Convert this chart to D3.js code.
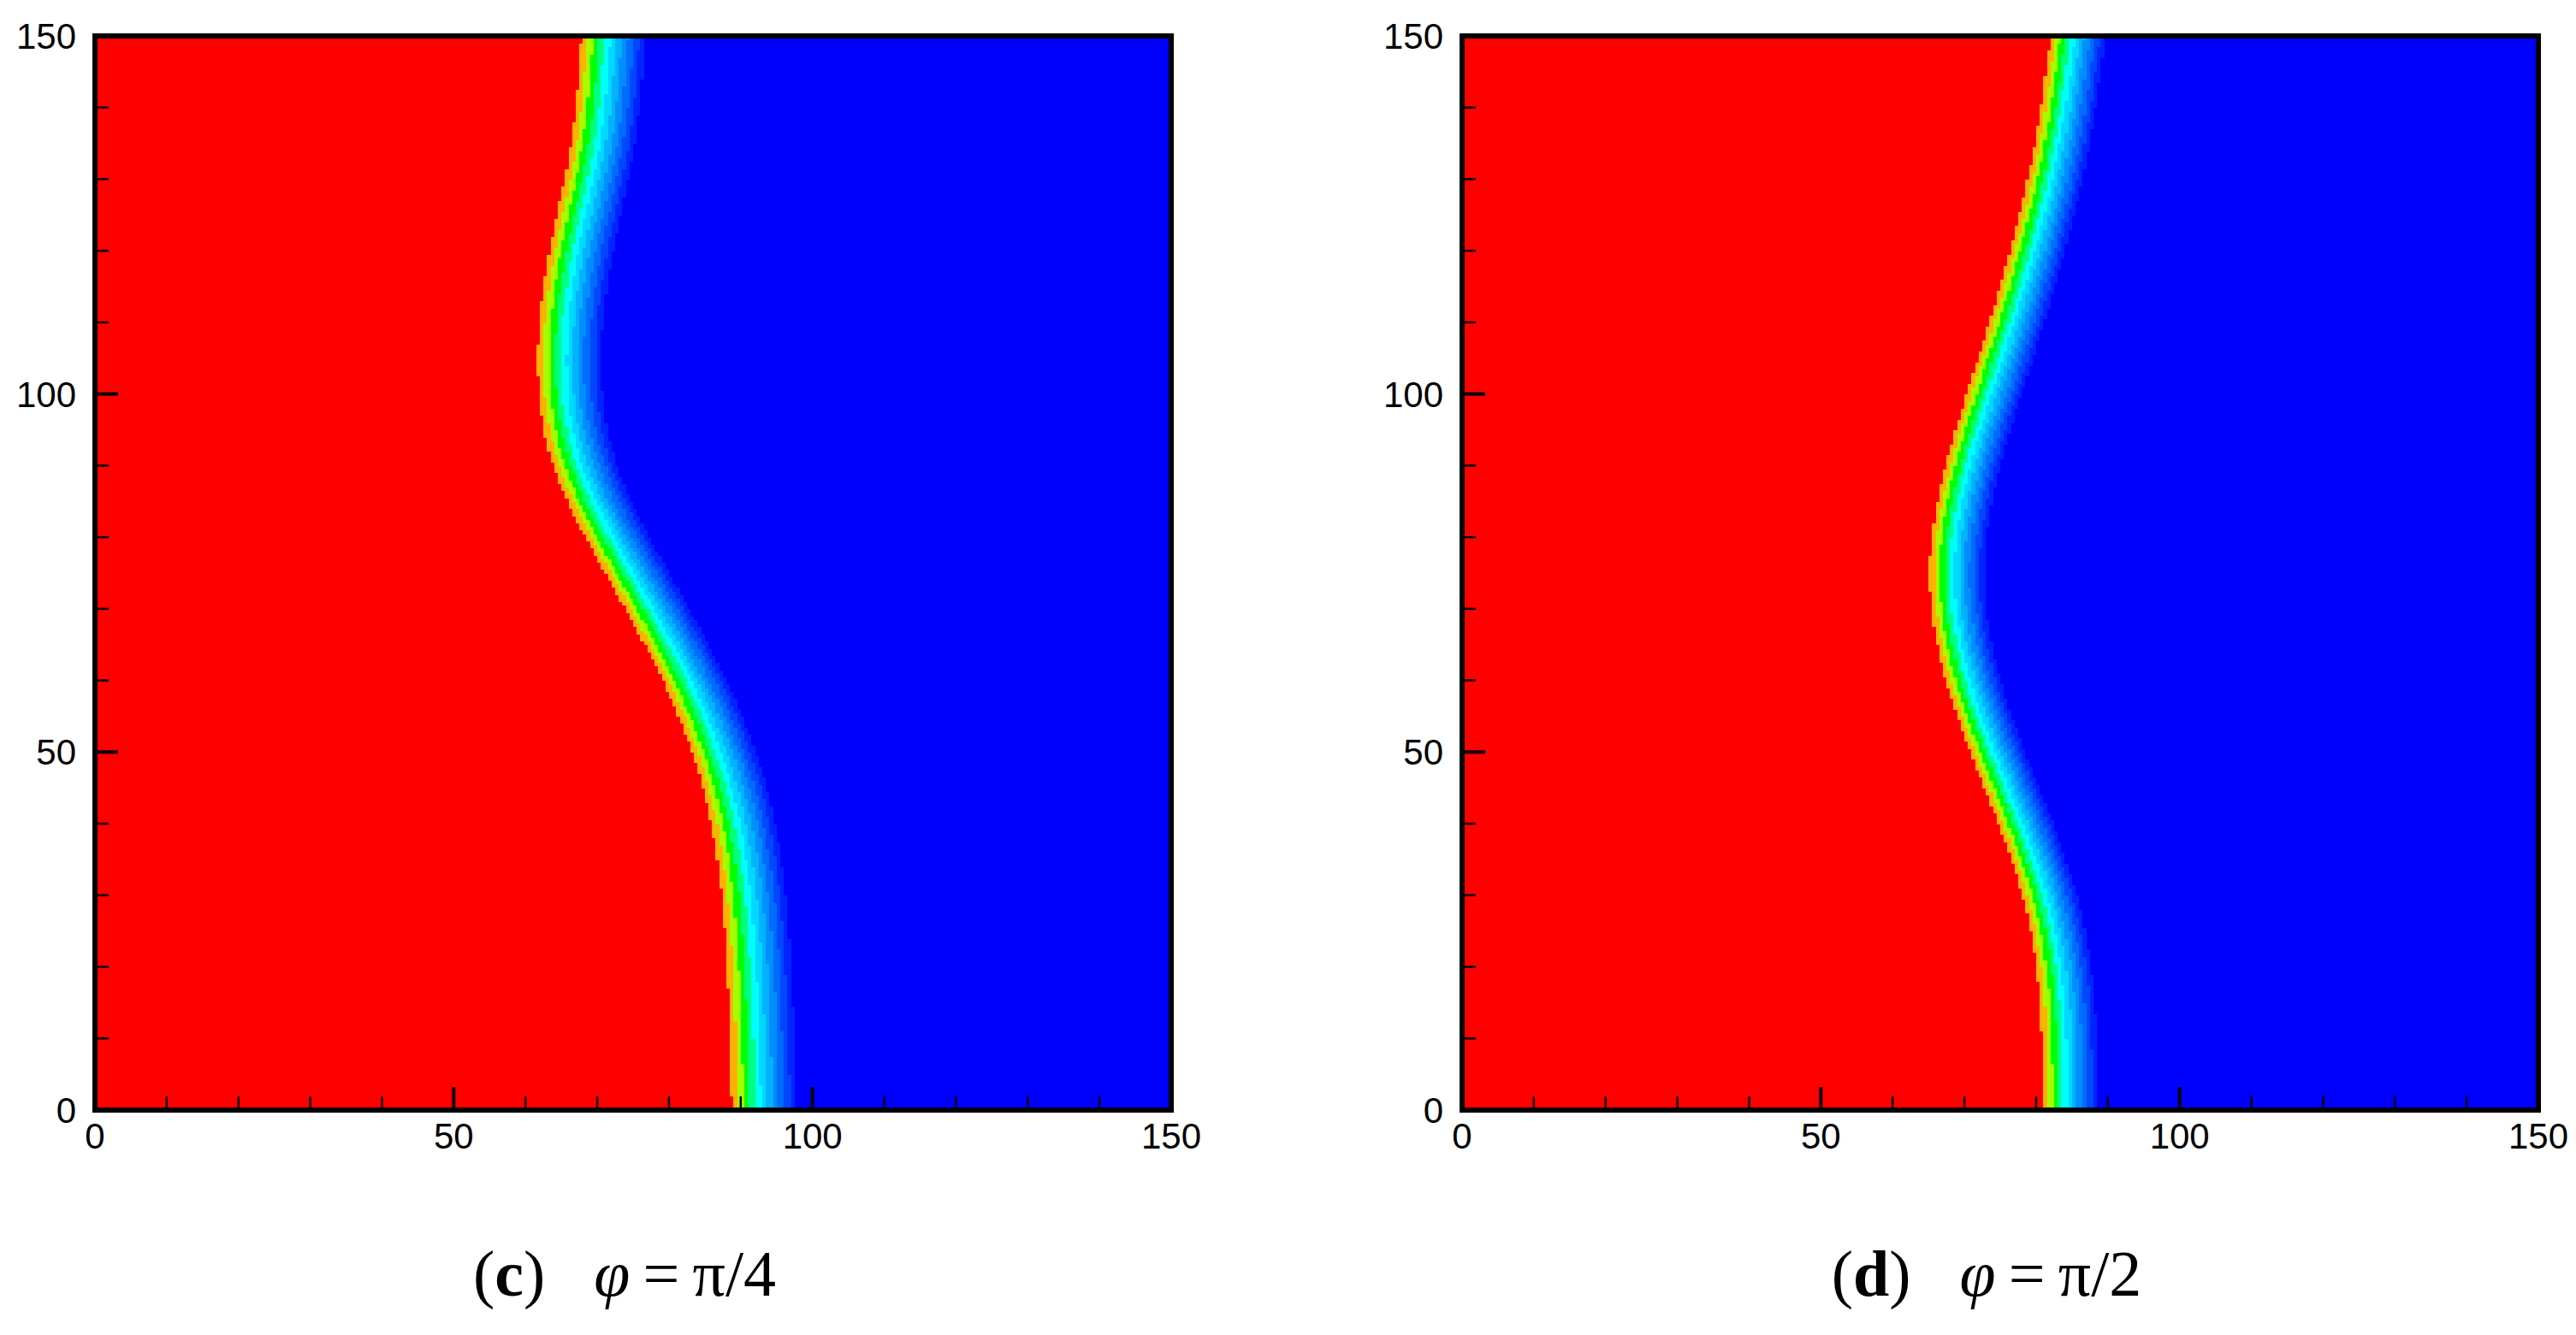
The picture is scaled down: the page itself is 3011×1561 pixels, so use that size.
<!DOCTYPE html>
<html><head><meta charset="utf-8">
<script src="https://cdn.jsdelivr.net/npm/d3@7"></script>
<style>body{margin:0;background:#fff}</style>
</head><body>
<svg id="chart" width="3011" height="1561"></svg>
<script>
// interface position (x of red edge) sampled every 15 units of y, 0..150
var interfaceY = [0, 15, 30, 45, 60, 75, 90, 105, 120, 135, 150];
var interfaceC = [88, 87.6, 86.8, 84.5, 78.8, 70.3, 62, 60.3, 62.2, 66, 67];
var interfaceD = [80.2, 80.2, 78, 72.1, 66.2, 63.6, 66.3, 71.3, 75.8, 79.4, 81.3];
var bandWidth = [10.5, 9];
var captions = [["c", "π/4"], ["d", "π/2"]];
var tickMajor = [0, 50, 100, 150];
var tickMinor = d3.range(0, 151, 10);

// colour levels across the diffuse interface (red side -> blue side)
var levelStops = [0, 0.06, 0.12, 0.25, 0.42, 0.55, 0.7, 0.85, 1];
var levelColors = ["#ff0000", "#ff8000", "#ffff00", "#00ff00", "#00ffff",
                   "#00c0ff", "#0080ff", "#0040ff", "#0000ff"];
var nLevels = 13;

var svg = d3.select("#chart");
var panels = [
    {left: 111, right: 1369, top: 42, bottom: 1298, xs: interfaceC, w: bandWidth[0], cap: captions[0], capX: 730},
    {left: 1709, right: 2967, top: 42, bottom: 1298, xs: interfaceD, w: bandWidth[1], cap: captions[1], capX: 2322}
];

var colorAt = d3.scaleLinear().domain(levelStops).range(levelColors).clamp(true);

panels.forEach(function(p) {
    var x = d3.scaleLinear().domain([0, 150]).range([p.left, p.right]);
    var y = d3.scaleLinear().domain([0, 150]).range([p.bottom, p.top]);
    var edge = d3.interpolateBasis(p.xs);
    var g = svg.append("g");

    g.append("rect")
        .attr("x", x(0)).attr("y", y(150))
        .attr("width", x(150) - x(0)).attr("height", y(0) - y(150))
        .attr("fill", "#0000ff");

    var step = 0.5;
    var rows = d3.range(0, 150, step);
    var cells = [];
    rows.forEach(function(yv) {
        var xc = edge((yv + step / 2) / 150);
        var start = Math.floor(xc / step) * step;
        cells.push({x0: 0, x1: start, y: yv, c: "#ff0000"});
        for (var xv = start; xv < xc + p.w + step; xv += step) {
            var t = (xv + step / 2 - xc) / p.w;
            var q = Math.max(0, Math.min(nLevels - 1, Math.floor(t * nLevels)));
            cells.push({x0: xv, x1: xv + step, y: yv, c: colorAt(q / (nLevels - 1))});
        }
    });

    g.selectAll("rect.cell").data(cells).enter().append("rect")
        .attr("class", "cell")
        .attr("x", function(d) { return x(d.x0); })
        .attr("y", function(d) { return y(d.y + step); })
        .attr("width", function(d) { return x(d.x1) - x(d.x0) + 0.6; })
        .attr("height", y(0) - y(step) + 0.6)
        .attr("fill", function(d) { return d.c; })
        .attr("shape-rendering", "crispEdges");

    // ticks (inward)
    g.selectAll("line.xt").data(tickMinor).enter().append("line")
        .attr("x1", x).attr("x2", x)
        .attr("y1", y(0)).attr("y2", function(d) { return y(0) - (d % 50 === 0 ? 27 : 16); })
        .attr("stroke", "#000").attr("stroke-width", function(d) { return d % 50 === 0 ? 4 : 2.5; });
    g.selectAll("line.yt").data(tickMinor).enter().append("line")
        .attr("y1", y).attr("y2", y)
        .attr("x1", x(0)).attr("x2", function(d) { return x(0) + (d % 50 === 0 ? 27 : 16); })
        .attr("stroke", "#000").attr("stroke-width", function(d) { return d % 50 === 0 ? 4 : 2.5; });

    g.append("rect")
        .attr("x", x(0)).attr("y", y(150))
        .attr("width", x(150) - x(0)).attr("height", y(0) - y(150))
        .attr("fill", "none").attr("stroke", "#000").attr("stroke-width", 6);

    g.selectAll("text.xl").data(tickMajor).enter().append("text")
        .attr("x", x).attr("y", y(0) + 45)
        .attr("text-anchor", "middle")
        .attr("font-family", "'Liberation Sans Narrow', 'Liberation Sans', sans-serif")
        .attr("font-size", 42)
        .text(function(d) { return d; });
    g.selectAll("text.yl").data(tickMajor).enter().append("text")
        .attr("x", x(0) - 22).attr("y", function(d) { return y(d) + 15; })
        .attr("text-anchor", "end")
        .attr("font-family", "'Liberation Sans Narrow', 'Liberation Sans', sans-serif")
        .attr("font-size", 42)
        .text(function(d) { return d; });

    var cap = svg.append("text")
        .attr("x", p.capX).attr("y", 1515)
        .attr("text-anchor", "middle")
        .attr("font-family", "'Liberation Serif', serif")
        .attr("font-size", 76);
    cap.append("tspan").text("(");
    cap.append("tspan").attr("font-weight", "bold").text(p.cap[0]);
    cap.append("tspan").text(")\u2002 ");
    cap.append("tspan").attr("font-style", "italic").text("φ");
    cap.append("tspan").text("\u2009=\u2009" + p.cap[1]);
});
</script>
</body></html>
